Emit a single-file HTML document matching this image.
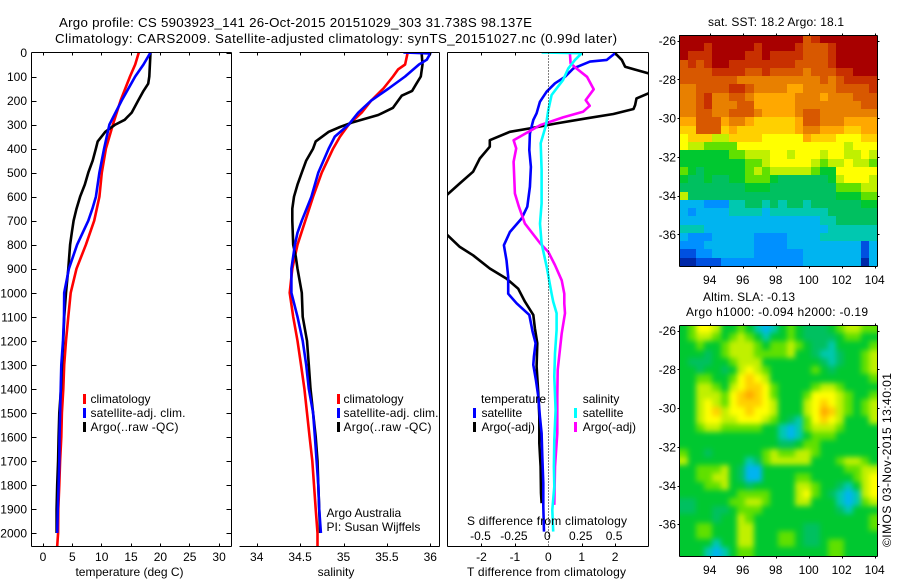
<!DOCTYPE html>
<html>
<head>
<meta charset="utf-8">
<title>Argo profile</title>
<style>
html,body{margin:0;padding:0;background:#fff;}
svg{display:block;}
text{font-family:"Liberation Sans",Arial,sans-serif;font-size:12px;fill:#000;}
.ax{stroke:#000;stroke-width:1;fill:none;shape-rendering:crispEdges;}
</style>
</head>
<body>
<svg id="chart" xmlns="http://www.w3.org/2000/svg" width="900" height="580" viewBox="0 0 900 580">
<defs>
<clipPath id="clipT"><rect x="31.5" y="52" width="200" height="494"/></clipPath>
<clipPath id="clipS"><rect x="239.5" y="52" width="200" height="494"/></clipPath>
<clipPath id="clipD"><rect x="447.5" y="52" width="201" height="494"/></clipPath>
<clipPath id="clipSLA"><rect x="679.5" y="325.5" width="198" height="231"/></clipPath>
<filter id="smoothSLA" filterUnits="userSpaceOnUse" x="660" y="305" width="240" height="275" color-interpolation-filters="sRGB">
<feGaussianBlur stdDeviation="2.7"/>
<feComponentTransfer><feFuncA type="linear" slope="50" intercept="0"/></feComponentTransfer>
</filter>
</defs>
<text x="59" y="27" font-size="13.3" style="font-size:13.3px" textLength="473" lengthAdjust="spacing">Argo profile: CS 5903923_141 26-Oct-2015 20151029_303 31.738S 98.137E</text>
<text x="55" y="43" style="font-size:13.3px" textLength="562" lengthAdjust="spacing">Climatology: CARS2009. Satellite-adjusted climatology: synTS_20151027.nc (0.99d later)</text>

<g id="heatSST"></g>
<g clip-path="url(#clipSLA)"><g id="heatSLA" filter="url(#smoothSLA)"></g></g>
<g id="panelT" clip-path="url(#clipT)"></g>
<g id="panelS" clip-path="url(#clipS)"></g>
<g id="panelD" clip-path="url(#clipD)"></g>
<g id="axes"></g>

<g>
<rect x="83" y="394" width="3" height="10" fill="#ff0000"/>
<text x="90.5" y="403">climatology</text>
<rect x="83" y="408" width="3" height="10" fill="#0000ff"/>
<text x="90.5" y="417" textLength="95" lengthAdjust="spacing">satellite-adj. clim.</text>
<rect x="83" y="422" width="3" height="10" fill="#000"/>
<text x="90.5" y="431" textLength="88" lengthAdjust="spacing">Argo(..raw -QC)</text>
</g>
<g>
<rect x="337" y="394" width="3" height="10" fill="#ff0000"/>
<text x="343.5" y="403">climatology</text>
<rect x="337" y="408" width="3" height="10" fill="#0000ff"/>
<text x="343.5" y="417" textLength="95" lengthAdjust="spacing">satellite-adj. clim.</text>
<rect x="337" y="422" width="3" height="10" fill="#000"/>
<text x="343.5" y="431" textLength="88" lengthAdjust="spacing">Argo(..raw -QC)</text>
</g>
<g>
<text x="481" y="403" textLength="65" lengthAdjust="spacing">temperature</text>
<rect x="473" y="408" width="3" height="10" fill="#0000ff"/>
<text x="481.5" y="417">satellite</text>
<rect x="473" y="422" width="3" height="10" fill="#000"/>
<text x="481.5" y="431">Argo(-adj)</text>
<text x="582.7" y="403">salinity</text>
<rect x="574" y="408" width="3" height="10" fill="#00ffff"/>
<text x="582.7" y="417">satellite</text>
<rect x="574" y="422" width="3" height="10" fill="#ff00ff"/>
<text x="582.7" y="431">Argo(-adj)</text>
</g>
<text x="326.5" y="517">Argo Australia</text>
<text x="326.5" y="531">PI: Susan Wijffels</text>
<text x="129.5" y="576" text-anchor="middle">temperature (deg C)</text>
<text x="336" y="576" text-anchor="middle">salinity</text>
<text x="467" y="525" textLength="160" lengthAdjust="spacing">S difference from climatology</text>
<text x="467" y="576" textLength="159" lengthAdjust="spacing">T difference from climatology</text>
<text x="708" y="26" textLength="136" lengthAdjust="spacing">sat. SST: 18.2 Argo: 18.1</text>
<text x="703" y="301" textLength="92" lengthAdjust="spacing">Altim. SLA: -0.13</text>
<text x="686" y="316" textLength="182" lengthAdjust="spacing">Argo h1000: -0.094 h2000: -0.19</text>
<text transform="translate(891,547) rotate(-90)" textLength="174" lengthAdjust="spacing">©IMOS 03-Nov-2015 13:40:01</text>
</svg>

<script>
// ---- temperature profiles (deg C by depth, dbar)
var tempClimDepth = [0,50,100,200,300,400,500,600,700,800,900,1000,1100,1200,1300,1400,1500,1600,1700,1800,1900,2000,2055];
var tempClim = [16.4,15.8,14.9,13.3,12,10.8,10.1,9.7,8.8,7.4,5.8,4.8,4.4,4,3.7,3.55,3.3,3.2,3,2.87,2.7,2.65,2.5];
var tempSatDepth = [0,50,100,200,300,400,500,600,650,700,800,900,1000,1100,1200,1300,1400,1500,1600,1700,1800,1900,2000];
var tempSat = [18.4,17.2,15.8,13.5,11.4,10.5,9.7,9.1,8.5,7.8,5.9,4.5,3.7,3.66,3.5,3.2,3.1,3,2.9,2.87,2.75,2.6,2.5];
var tempArgoDepth = [0,50,100,130,160,200,250,280,300,330,370,400,450,500,550,600,650,700,750,800,900,1000,1100,1200,1300,1400,1500,1600,1700,1800,1900,2000];
var tempArgo = [18.4,18.3,18.2,18,17.2,16.3,15.2,14,12.4,10.7,9.4,9.1,8.55,7.8,7.2,6.4,5.8,5.3,5,4.7,4.4,4,3.7,3.55,3.3,3.15,2.87,2.75,2.65,2.5,2.4,2.4];

// ---- salinity profiles
var salClimDepth = [0,50,70,100,150,200,250,300,350,400,500,600,700,800,900,1000,1100,1200,1300,1400,1500,1600,1700,1800,1900,2000,2055];
var salClim = [35.74,35.71,35.63,35.57,35.46,35.32,35.21,35.06,34.96,34.88,34.75,34.65,34.56,34.47,34.41,34.38,34.42,34.47,34.51,34.55,34.58,34.61,34.64,34.66,34.68,34.7,34.7];
var salSatDepth = [0,4,30,50,100,150,200,250,300,350,400,500,600,700,750,800,900,1000,1100,1200,1300,1400,1500,1600,1700,1800,1900,2000];
var salSat = [35.69,36,35.96,35.87,35.71,35.52,35.32,35.17,35.06,34.9,34.83,34.71,34.63,34.52,34.47,34.44,34.4,34.4,34.47,34.53,34.57,34.6,34.65,34.67,34.69,34.71,34.72,34.74];
var salArgoDepth = [0,50,100,130,160,180,230,260,290,310,330,370,400,450,500,550,600,650,700,800,850,900,1000,1100,1200,1300,1400,1500,1600,1700,1800,1900,2000];
var salArgo = [35.9,35.91,35.89,35.84,35.79,35.67,35.57,35.4,35.11,34.96,34.83,34.68,34.65,34.57,34.52,34.47,34.43,34.41,34.41,34.42,34.45,34.47,34.52,34.53,34.58,34.6,34.62,34.65,34.68,34.7,34.71,34.72,34.73];

// ---- temperature differences from climatology
var dTempArgoDepth = [3,31,59,73,87,130,170,191,219,235,256,274,295,316,330,365,392,441,496,545,591,680,760,809,844,899,941,983,1037,1092,1148,1210,1307,1418,1515,1626,1723,1834,1876];
var dTempArgo = [2,2.2,2.3,2.64,3,3.5,3,2.64,2.6,2.55,1.95,1.15,0.25,-0.55,-1.15,-1.75,-1.75,-2.05,-2.25,-2.65,-3.02,-3.6,-3.02,-2.65,-2.25,-1.75,-1.25,-0.9,-0.7,-0.45,-0.4,-0.33,-0.35,-0.3,-0.27,-0.27,-0.23,-0.22,-0.2];
var dTempSatDepth = [3,31,38,66,101,128,163,205,253,281,337,406,476,559,642,691,747,802,865,934,1004,1044,1092,1162,1210,1266,1300,1363,1432,1515,1585,1682,1793,1890,1994];
var dTempSat = [2,1.75,1.25,0.75,0.5,0.2,-0.05,-0.25,-0.35,-0.45,-0.55,-0.57,-0.52,-0.55,-0.63,-0.8,-1.15,-1.33,-1.25,-1.2,-1.2,-0.95,-0.57,-0.47,-0.38,-0.43,-0.45,-0.37,-0.3,-0.25,-0.2,-0.18,-0.15,-0.15,-0.13];

// ---- salinity differences from climatology
var dSalArgoDepth = [3,45,66,101,153,198,222,247,270,302,365,399,455,587,642,712,795,830,885,948,1004,1045,1085,1169,1238,1321,1432,1585,1723,1883];
var dSalArgo = [0.162,0.167,0.21,0.29,0.34,0.28,0.31,0.26,0.11,-0.06,-0.26,-0.24,-0.26,-0.25,-0.22,-0.175,-0.06,0,0.05,0.1,0.12,0.12,0.125,0.1,0.087,0.07,0.067,0.067,0.05,0.045];
var dSalSatDepth = [0,3,31,66,115,177,240,302,378,489,628,712,795,892,1004,1037,1085,1155,1252,1349,1488,1613,1723,1807,1904,1994];
var dSalSat = [-0.05,0.25,0.2,0.15,0.11,0.025,0,-0.017,-0.057,-0.05,-0.05,-0.062,-0.05,-0.012,0.025,0.037,0.062,0.062,0.05,0.045,0.055,0.045,0.042,0.045,0.03,0.037];

// ---- tick labels
var depthTicks = [0,100,200,300,400,500,600,700,800,900,1000,1100,1200,1300,1400,1500,1600,1700,1800,1900,2000];
var tempTicks = [0,5,10,15,20,25,30];
var salTicks = ["34","34.5","35","35.5","36"];
var dTempTicks = [-2,-1,1,2];
var dTempLabels = [-2,-1,0,1,2];
var dSalTicks = ["-0.5","-0.25","0","0.25","0.5"];
var lonTicks = [94,96,98,100,102,104];
var latTicks = [-26,-28,-30,-32,-34,-36];

// ---- sea surface temperature map (colour level per cell, north to south, west to east)
var sstLevels = [
[15,15,15,15,15,15,15,15,15,15,15,15,15,15,15,13,14,15,15,15,15,15,15,15],
[15,15,15,14,15,15,15,15,15,14,15,15,15,15,14,13,13,13,14,15,15,15,15,15],
[15,14,14,14,15,15,15,15,14,14,15,14,14,14,14,13,13,13,14,15,15,15,15,15],
[13,14,13,14,15,15,14,14,14,14,14,14,14,14,13,13,13,13,14,15,15,15,15,15],
[13,13,13,13,14,14,14,14,13,13,14,13,13,13,13,12,13,13,13,14,14,15,15,15],
[13,13,13,13,13,13,13,12,12,12,12,12,12,12,12,12,12,13,12,13,14,14,14,14],
[12,12,13,13,13,13,14,14,13,12,12,12,12,11,11,12,12,12,12,13,13,13,13,14],
[12,12,13,14,12,12,13,13,12,11,11,11,11,11,12,12,12,11,12,12,12,13,13,13],
[12,12,13,14,12,12,12,13,13,11,11,11,11,11,12,12,12,12,12,12,12,12,13,13],
[12,12,13,13,12,12,13,13,13,12,11,11,11,11,12,13,13,12,12,12,12,12,12,12],
[11,11,13,13,13,11,12,12,11,10,10,10,10,10,11,13,13,12,12,12,11,11,11,11],
[10,10,13,13,13,10,11,10,10,10,10,10,10,10,11,12,12,11,11,11,10,10,11,11],
[9,10,10,10,8,8,10,10,10,10,9,9,9,9,9,11,10,10,10,9,9,9,10,10],
[9,8,8,7,7,7,7,9,9,9,9,9,9,9,9,9,9,9,9,9,8,9,9,9],
[6,6,6,6,6,6,7,7,8,8,8,9,9,8,9,9,9,8,9,9,8,8,9,8],
[6,6,6,6,6,6,6,6,7,7,8,9,9,9,9,9,8,7,8,8,9,8,8,7],
[7,6,5,6,6,6,6,6,7,8,7,8,8,8,8,8,7,6,6,9,9,9,9,9],
[6,5,5,6,5,5,6,6,7,7,7,6,5,5,5,5,5,5,6,8,9,9,9,8],
[5,5,5,5,5,5,5,5,6,6,6,5,5,5,5,5,5,5,5,7,7,7,8,8],
[8,5,5,5,5,5,5,5,5,5,5,5,5,5,5,5,5,5,5,6,6,6,7,7],
[3,3,3,2,2,2,4,4,5,5,4,5,4,5,5,4,5,5,5,5,5,5,6,6],
[3,2,3,3,3,3,4,4,4,4,3,4,4,4,4,4,4,4,5,5,5,5,5,5],
[3,3,3,3,3,3,3,3,3,3,3,3,3,3,3,3,3,4,4,5,5,5,5,5],
[4,4,4,3,3,3,3,3,3,3,3,3,3,3,3,3,3,3,4,4,4,4,4,4],
[3,2,2,2,3,3,3,3,3,2,2,2,2,3,3,3,3,4,4,4,4,4,4,4],
[2,2,2,3,3,3,3,3,3,2,2,2,2,3,3,3,3,3,3,3,3,3,1,3],
[1,1,2,2,3,3,3,3,3,2,2,2,2,2,2,3,3,3,3,3,3,3,1,3],
[0,0,1,1,1,2,2,2,2,2,2,2,2,2,2,3,3,3,3,3,3,3,0,3]
];

// ---- sea level anomaly map (colour level per cell)
var slaLevels = [
[6,7,9,9,8,6,6,7,6,4,3,4,6,7,6,5,5,5,6,7,8,8,7,7],
[6,7,8,8,7,6,7,8,7,6,4,6,6,7,6,5,5,5,5,6,7,7,6,6],
[6,6,7,6,6,7,8,8,8,7,6,7,7,8,7,6,5,5,4,6,6,6,6,7],
[6,6,6,5,6,7,8,8,8,7,7,7,7,8,6,6,5,4,4,5,6,6,7,8],
[6,5,5,5,6,6,7,8,8,8,6,6,6,6,6,6,6,5,4,5,6,6,7,8],
[6,6,5,6,6,5,6,8,9,8,7,6,6,6,6,6,7,6,5,6,6,6,7,8],
[6,6,7,7,6,6,7,9,10,9,8,6,6,6,6,6,6,6,6,6,6,6,6,7],
[6,6,8,8,7,6,8,9,10,10,9,7,6,6,6,6,7,8,8,7,6,6,6,6],
[6,6,8,8,8,7,9,10,11,10,9,7,6,6,6,7,9,9,9,8,7,6,6,7],
[6,6,8,9,8,7,9,10,10,10,9,8,6,6,6,8,9,10,9,8,7,6,7,8],
[6,6,8,9,10,8,9,9,10,9,9,8,6,6,6,8,9,11,10,8,7,6,7,8],
[6,6,8,9,9,8,8,9,9,9,8,7,6,5,4,7,9,10,9,8,6,6,6,8],
[6,6,7,8,8,7,7,7,7,7,6,6,4,3,4,7,8,8,8,7,6,6,6,6],
[6,6,6,6,6,6,6,6,6,6,6,6,4,3,4,6,7,7,7,6,6,6,6,6],
[6,6,6,6,6,6,6,6,6,6,6,6,5,5,6,7,7,6,6,6,6,6,6,6],
[7,6,6,5,6,6,6,6,6,6,7,8,7,7,8,8,7,6,6,6,6,6,6,6],
[8,6,6,6,6,6,6,6,4,5,7,8,8,8,8,8,6,6,6,7,8,8,7,6],
[6,6,7,7,7,8,6,5,3,3,6,6,6,6,6,6,6,6,6,6,7,7,8,8],
[6,6,7,7,8,8,6,5,3,3,6,6,6,6,7,7,6,6,6,6,6,7,8,9],
[6,6,6,7,7,8,6,6,5,6,6,6,6,6,8,8,7,6,6,5,4,6,8,9],
[6,6,6,6,6,6,6,7,7,7,7,6,6,6,8,9,7,6,5,4,3,4,8,9],
[5,5,6,6,6,6,7,7,8,8,7,6,6,6,8,8,6,6,6,4,3,4,7,8],
[5,5,6,6,5,5,6,7,7,7,6,6,6,6,6,6,6,6,6,5,4,6,6,6],
[6,6,6,6,5,6,6,8,7,6,6,6,6,6,6,6,6,6,6,6,6,6,6,7],
[6,6,7,7,6,6,6,8,8,6,6,6,6,6,6,5,5,6,6,6,6,6,6,7],
[6,6,7,7,6,6,6,8,8,6,6,6,7,7,6,5,5,6,6,6,6,6,6,6],
[6,6,6,6,4,6,6,8,8,6,6,6,7,7,6,5,5,6,7,7,6,6,6,6],
[6,6,6,4,3,4,6,7,7,6,6,6,6,6,6,6,6,6,7,7,6,6,6,6]
];

var levelColors = ["#0028a8","#0050e0","#0090ff","#00b4f0","#00c8b0","#00c060","#00c830","#60e000","#c0f000","#ffff00","#ffd000","#ffa800","#e88000","#d85800","#c83000","#a80000"];

var NS = "http://www.w3.org/2000/svg";
var svg = document.getElementById("chart");
var axes = document.getElementById("axes");

// axis functions
function yDepth(d){ return 52.5 + d * 0.24025; }
function xTemp(t){ return 42.5 + t * 5.87; }
function xSal(s){ return 256.7 + (s - 34) * 86.8; }
function xDT(t){ return 548.3 + t * 33.4; }
function xDS(s){ return 548.3 + s * 133.6; }
function xLon(l){ return 709.7 + (l - 94) * 16.5; }
function ySSTLat(l){ return 40.7 + (-26 - l) * 19.37; }
function ySLALat(l){ return 330.7 + (-26 - l) * 19.35; }

function drawLine(parentId, depths, vals, xFn, color, name){
  var p = document.createElementNS(NS, "polyline");
  var pts = [];
  for (var i = 0; i < vals.length; i++) {
    pts.push(xFn(vals[i]).toFixed(1) + "," + yDepth(depths[i]).toFixed(1));
  }
  p.setAttribute("points", pts.join(" "));
  p.setAttribute("fill", "none");
  p.setAttribute("stroke", color);
  p.setAttribute("stroke-width", "2.6");
  p.setAttribute("stroke-linejoin", "round");
  
  
  document.getElementById(parentId).appendChild(p);
}

function seg(x1, y1, x2, y2, name){
  var l = document.createElementNS(NS, "line");
  l.setAttribute("x1", x1);
  l.setAttribute("y1", y1);
  l.setAttribute("x2", x2);
  l.setAttribute("y2", y2);
  l.setAttribute("class", "ax");
  
  
  axes.appendChild(l);
  return l;
}

function label(x, y, s, anchor, name){
  var t = document.createElementNS(NS, "text");
  t.setAttribute("x", x);
  t.setAttribute("y", y);
  t.setAttribute("text-anchor", anchor);
  t.textContent = s;
  
  
  axes.appendChild(t);
}

function drawHeat(parentId, levels, yFn, name){
  var g = document.getElementById(parentId);
  var west = 92.16, dLon = 0.5, north = -25.7, dLat = 0.426;
  for (var r = 0; r < levels.length; r++) {
    for (var c = 0; c < levels[r].length; c++) {
      var x0 = Math.round(xLon(west + c * dLon)), x1 = Math.round(xLon(west + (c + 1) * dLon));
      var y0 = Math.round(yFn(north - r * dLat)), y1 = Math.round(yFn(north - (r + 1) * dLat));
      var cell = document.createElementNS(NS, "rect");
      cell.setAttribute("x", x0);
      cell.setAttribute("y", y0);
      cell.setAttribute("width", x1 - x0);
      cell.setAttribute("height", y1 - y0);
      cell.setAttribute("fill", levelColors[levels[r][c]]);
      cell.setAttribute("shape-rendering", "crispEdges");
      
      
      g.appendChild(cell);
    }
  }
}

drawHeat("heatSST", sstLevels, ySSTLat, "sst-cell");
drawHeat("heatSLA", slaLevels, ySLALat, "sla-cell");

drawLine("panelT", tempClimDepth, tempClim, xTemp, "#ff0000", "temperature-climatology-line");
drawLine("panelT", tempArgoDepth, tempArgo, xTemp, "#000000", "temperature-argo-line");
drawLine("panelT", tempSatDepth, tempSat, xTemp, "#0000ff", "temperature-satellite-line");
drawLine("panelS", salClimDepth, salClim, xSal, "#ff0000", "salinity-climatology-line");
drawLine("panelS", salArgoDepth, salArgo, xSal, "#000000", "salinity-argo-line");
drawLine("panelS", salSatDepth, salSat, xSal, "#0000ff", "salinity-satellite-line");
drawLine("panelD", dTempArgoDepth, dTempArgo, xDT, "#000000", "t-difference-argo-line");
drawLine("panelD", dTempSatDepth, dTempSat, xDT, "#0000ff", "t-difference-satellite-line");
drawLine("panelD", dSalArgoDepth, dSalArgo, xDS, "#ff00ff", "s-difference-argo-line");
drawLine("panelD", dSalSatDepth, dSalSat, xDS, "#00ffff", "s-difference-satellite-line");

// panel frames
seg(31.5, 52.5, 231.5, 52.5, "temperature-top-axis");
seg(31.5, 546.5, 231.5, 546.5, "temperature-bottom-axis");
seg(31.5, 52.5, 31.5, 546.5, "temperature-left-axis");
seg(231.5, 52.5, 231.5, 546.5, "temperature-right-axis");
seg(239.5, 52.5, 439.5, 52.5, "salinity-top-axis");
seg(239.5, 546.5, 439.5, 546.5, "salinity-bottom-axis");
seg(439.5, 52.5, 439.5, 546.5, "salinity-right-axis");
seg(447.5, 52.5, 648.5, 52.5, "difference-top-axis");
seg(447.5, 546.5, 648.5, 546.5, "difference-bottom-axis");
seg(447.5, 52.5, 447.5, 546.5, "difference-left-axis");
seg(648.5, 52.5, 648.5, 546.5, "difference-right-axis");
var zeroLine = seg(548.5, 52.5, 548.5, 546.5, "difference-zero-line");
zeroLine.setAttribute("stroke-dasharray", "1 2");

depthTicks.forEach(function(d){
  var y = Math.round(yDepth(d)) + 0.5;
  if (d > 0) seg(31.5, y, 36.5, y, "depth-tick-left");
  seg(226.5, y, 231.5, y, "depth-tick-right");
  label(27, yDepth(d) + 4.5, String(d), "end", "depth-tick-label");
});
tempTicks.forEach(function(t){
  var x = Math.round(xTemp(t)) + 0.5;
  seg(x, 52.5, x, 55.5, "temperature-tick-top");
  seg(x, 543.5, x, 546.5, "temperature-tick-bottom");
  label(xTemp(t) + 0.5, 561, String(t), "middle", "temperature-tick-label");
});
salTicks.forEach(function(s){
  var x = Math.round(xSal(parseFloat(s))) + 0.5;
  seg(x, 52.5, x, 55.5, "salinity-tick-top");
  seg(x, 543.5, x, 546.5, "salinity-tick-bottom");
  label(xSal(parseFloat(s)), 561, s, "middle", "salinity-tick-label");
});
dTempTicks.forEach(function(t){
  var x = Math.round(xDT(t)) + 0.5;
  seg(x, 52.5, x, 55.5, "t-difference-tick-top");
  seg(x, 543.5, x, 546.5, "t-difference-tick-bottom");
});
dTempLabels.forEach(function(t){
  label(xDT(t), 561, String(t), "middle", "t-difference-tick-label");
});
dSalTicks.forEach(function(s){
  label(xDS(parseFloat(s)) - 1, 540, s, "middle", "s-difference-tick-label");
});

// map frames and ticks
function mapFrame(top, bottom, yFn, xLabelY, name){
  seg(679.5, top, 877.5, top, name + "-top-axis");
  seg(679.5, bottom, 877.5, bottom, name + "-bottom-axis");
  seg(679.5, top, 679.5, bottom, name + "-left-axis");
  seg(877.5, top, 877.5, bottom, name + "-right-axis");
  lonTicks.forEach(function(l){
    var x = Math.round(xLon(l)) + 0.5;
    seg(x, top - 2, x, top, name + "-lon-tick-top");
    seg(x, bottom, x, bottom + 2, name + "-lon-tick-bottom");
    label(xLon(l), xLabelY, String(l), "middle", name + "-lon-label");
  });
  latTicks.forEach(function(l){
    var y = Math.round(yFn(l)) + 0.5;
    seg(677.5, y, 679.5, y, name + "-lat-tick-left");
    seg(877.5, y, 879.5, y, name + "-lat-tick-right");
    label(676, yFn(l) + 4.5, String(l), "end", name + "-lat-label");
  });
}
mapFrame(35.5, 266.5, ySSTLat, 284, "sst-map");
mapFrame(325.5, 556.5, ySLALat, 574, "sla-map");
</script>
</body>
</html>
